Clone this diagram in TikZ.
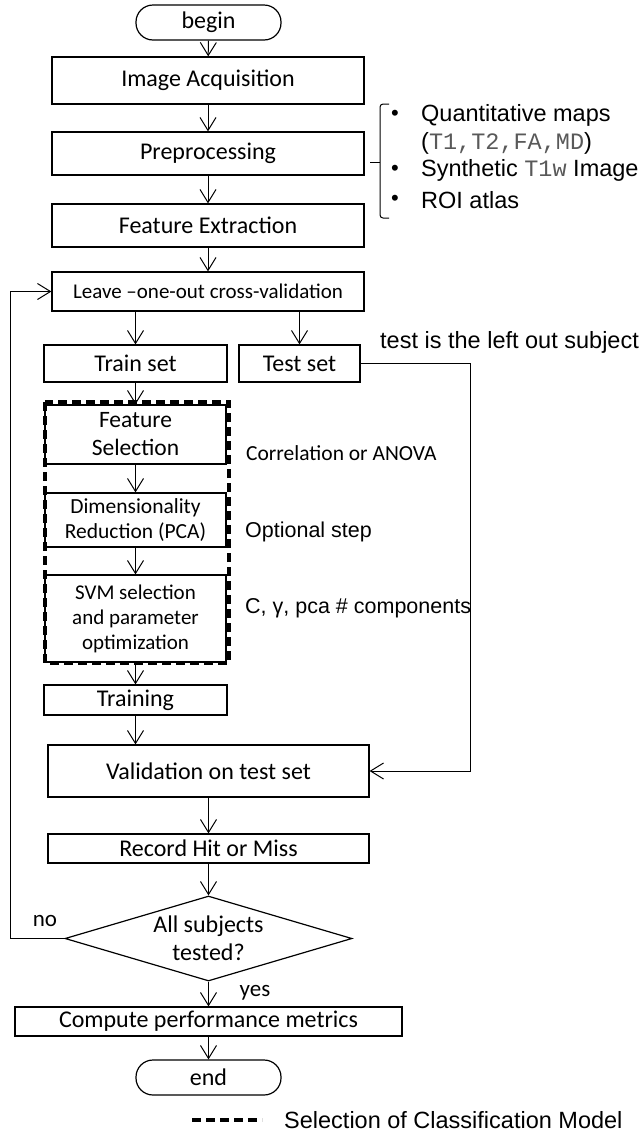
\documentclass[tikz,border=0pt]{standalone}
\usepackage{fontspec}
\setmainfont{Carlito}
\setmonofont{Liberation Mono}
\newfontfamily\arialfont{Liberation Sans}
\usetikzlibrary{shapes.geometric,arrows.meta}

\begin{document}
\begin{tikzpicture}[x=1pt,y=-1pt,
  every node/.style={inner sep=0pt},
  process/.style={draw,line width=1.2pt,font=\fontsize{24}{28}\selectfont,align=center},
  terminal/.style={draw,line width=1.2pt,rounded corners=17pt,minimum width=145pt,minimum height=35pt,font=\fontsize{24}{28}\selectfont},
  decision/.style={draw,diamond,line width=1.2pt,aspect=3.4,minimum width=287pt,minimum height=85pt,font=\fontsize{24}{28}\selectfont,align=center},
  model box/.style={line width=3.5pt,dash pattern=on 9pt off 5pt},
  note/.style={anchor=west,font=\arialfont\fontsize{23.5}{27}\selectfont},
  flow/.style={-{Straight Barb[length=13pt,width=16pt]},line width=1pt}]
  \useasboundingbox (0,0) rectangle (641,1133);
  % main chain
  \node[terminal] (begin) at (208.5,22.5) {begin};
  \node[process,minimum width=312pt,minimum height=47pt] (acq) at (208,80.5) {Image Acquisition};
  \node[process,minimum width=312pt,minimum height=43pt] (pre) at (208,153.5) {Preprocessing};
  \node[process,minimum width=312pt,minimum height=43pt] (feat) at (208,225.5) {Feature Extraction};
  \node[process,minimum width=312pt,minimum height=39pt,font=\fontsize{21}{24}\selectfont] (loo) at (208,291.5) {Leave --one-out cross-validation};
  \node[process,minimum width=183pt,minimum height=37pt] (train) at (135.5,363.5) {Train set};
  \node[process,minimum width=121pt,minimum height=37pt] (test) at (299.5,363.5) {Test set};
  \node[process,minimum width=181pt,minimum height=59pt,font=\fontsize{23.5}{28}\selectfont] (fsel) at (135.5,434.5) {Feature\\Selection};
  \node[process,minimum width=181pt,minimum height=54pt,font=\fontsize{21.5}{25}\selectfont] (dimred) at (135.5,520) {Dimensionality\\Reduction (PCA)};
  \node[process,minimum width=181pt,minimum height=87pt,font=\fontsize{21}{25}\selectfont] (svm) at (135.5,618.5) {SVM selection\\and parameter\\optimization};
  \node[process,minimum width=183pt,minimum height=30pt] (training) at (135.5,700) {Training};
  \node[process,minimum width=321pt,minimum height=52pt] (valid) at (208.5,771) {Validation on test set};
  \node[process,minimum width=321pt,minimum height=29pt] (record) at (208.5,848.5) {Record Hit or Miss};
  \node[decision] (alltested) at (208.5,938.5) {All subjects\\tested?};
  \node[process,minimum width=387pt,minimum height=29pt] (metrics) at (208.5,1021.5) {Compute performance metrics};
  \node[terminal] (end) at (208.5,1077.5) {end};
  % classification model frame
  \draw[model box] (45,402) rectangle (229,663);
  % connectors
  \draw[flow] (begin) -- (acq);
  \draw[flow] (acq) -- (pre);
  \draw[flow] (pre) -- (feat);
  \draw[flow] (feat) -- (loo);
  \draw[flow] (loo.south -| train) -- (train);
  \draw[flow] (loo.south -| test) -- (test);
  \draw[flow] (train) -- (fsel);
  \draw[flow] (fsel) -- (dimred);
  \draw[flow] (dimred) -- (svm);
  \draw[flow] (svm) -- (training);
  \draw[flow] (training.south) -- (valid.north -| training);
  \draw[flow] (valid) -- (record);
  \draw[flow] (record) -- (alltested);
  \draw[flow] (alltested) -- (metrics);
  \draw[flow] (metrics) -- (end);
  \draw[flow] (alltested.west) -- (10,938.5) |- (loo.west);
  \draw[flow] (test.east) -- (470,363.5) |- (valid.east);
  \node[font=\fontsize{23}{26}\selectfont] (no) at (45,921) {no};
  \node[font=\fontsize{23}{26}\selectfont] (yes) at (255,993) {yes};
  % inputs of preprocessing
  \draw[line width=1pt,rounded corners=3pt] (389,104) -- (380,104) -- (380,218) -- (389,218);
  \draw[line width=1pt] (380,162) -- (370,162);
  \foreach \y in {115,170,200} \node[font=\arialfont\fontsize{22}{26}\selectfont] at (395,\y) {\textbullet};
  \node[note] (maps) at (421,115) {Quantitative maps};
  \node[note] (mapsl) at (421,143) {(\textcolor{black!65}{\texttt{T1,T2,FA,MD}})};
  \node[note] (synth) at (421,170) {Synthetic \textcolor{black!65}{\texttt{T1w}} Image};
  \node[note] (roi) at (421,200) {ROI atlas};
  % side remarks
  \node[note] (leftout) at (380,342) {test is the left out subject};
  \node[anchor=west,font=\fontsize{21.5}{25}\selectfont] (corr) at (246,453) {Correlation or ANOVA};
  \node[note,font=\arialfont\fontsize{21.5}{25}\selectfont] (opt) at (245,532) {Optional step};
  \node[note,font=\arialfont\fontsize{21.5}{25}\selectfont] (params) at (245,608) {C, γ, pca \# components};
  % legend
  \draw[model box] (192,1120) -- (262,1120);
  \node[note] (legend) at (284,1120) {Selection of Classification Model};
\end{tikzpicture}
\end{document}
